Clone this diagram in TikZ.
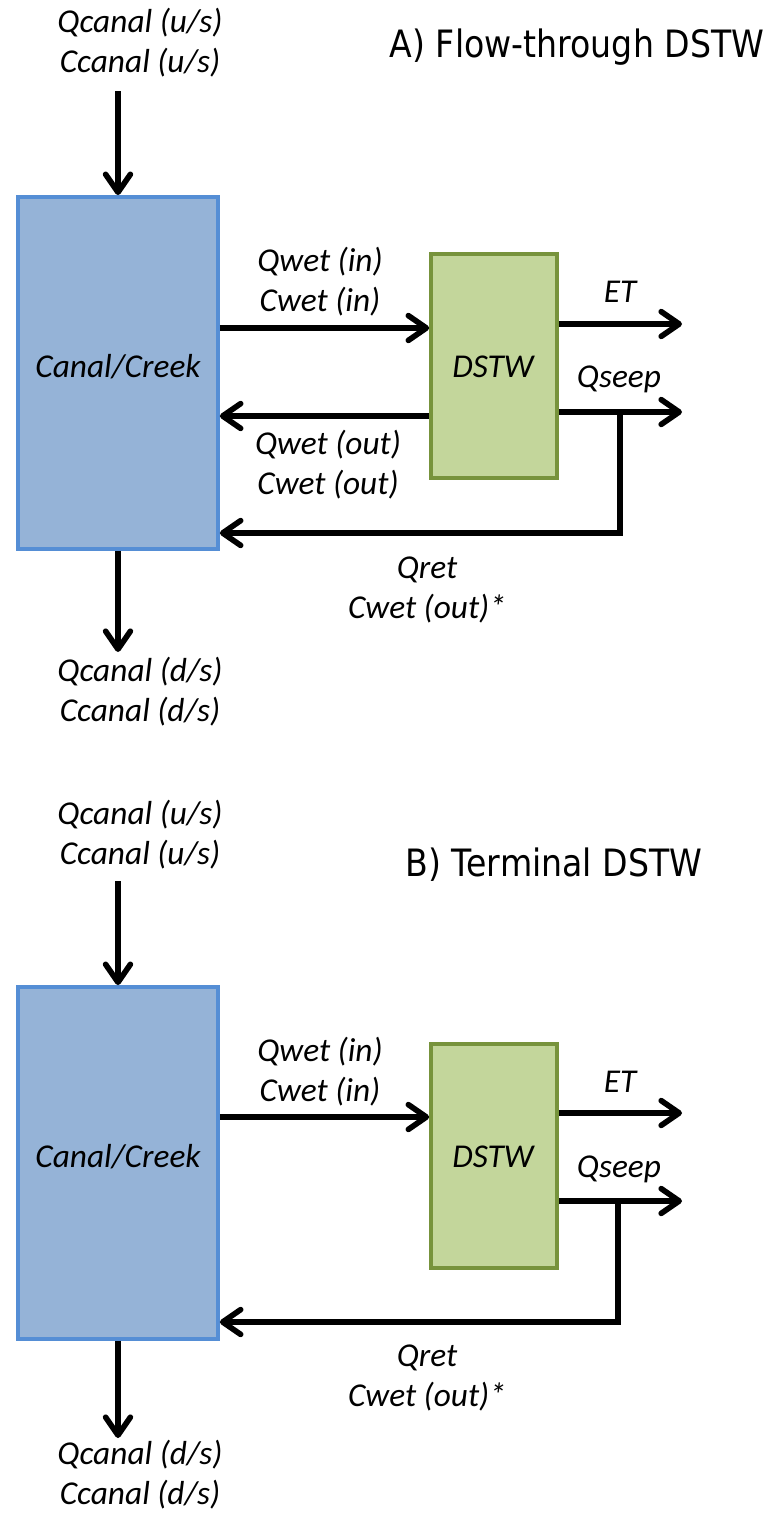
\documentclass[tikz,border=0pt]{standalone}
\usepackage{fontspec}
\setmainfont{Carlito}
\newfontfamily\titlefont{DejaVu Sans}[FakeStretch=0.88]
\usepackage{tikz}
\usetikzlibrary{arrows.meta,positioning}
\definecolor{canalfill}{HTML}{95B3D7}
\definecolor{canalline}{HTML}{558ED5}
\definecolor{wetfill}{HTML}{C3D69B}
\definecolor{wetline}{HTML}{77933C}
\tikzset{
flow/.style={line width=4pt, -{Straight Barb[length=0.45cm,width=0.62cm,round]}}, % the black flow arrows
canal/.style={draw=canalline, fill=canalfill, line width=2.6pt, minimum width=5cm, minimum height=8.8cm},
wetland/.style={draw=wetline, fill=wetfill, line width=2.6pt, minimum width=3.15cm, minimum height=5.6cm},
lbl/.style={font=\fontsize{23.7pt}{28.45pt}\selectfont\itshape, align=center, inner sep=0pt},
heading/.style={font=\fontsize{26.8pt}{30pt}\selectfont\titlefont, inner sep=0pt}
}

\begin{document}
\begin{tikzpicture}[x=0.025cm, y=-0.025cm]
    \useasboundingbox (0,0) rectangle (771,1513);
    % A) flow-through wetland
    \node[heading] (titleA) at (577,47) {A) Flow-through DSTW};
    \node[canal] (canalA) at (118,373) {};
    \node[lbl] at (118,367) {Canal/Creek};
    \node[wetland] (dstwA) at (494,366) {};
    \node[lbl] at (493,367) {DSTW};
    \node[lbl] (upA) at (140,43) {Qcanal (u/s)\\Ccanal (u/s)};
    \node[lbl] (downA) at (140,692) {Qcanal (d/s)\\Ccanal (d/s)};
    \node[lbl] (inA) at (320,282) {Qwet (in)\\Cwet (in)};
    \node[lbl] (outA) at (328,465) {Qwet (out)\\Cwet (out)};
    \node[lbl] (etlA) at (620,292) {ET};
    \node[lbl] (seeplA) at (619,379) {Qseep};
    \node[lbl] (retA) at (427,590) {Qret\\Cwet (out)*};
    \coordinate (srcA) at (118,91);
    \coordinate (sinkA) at (118,652);
    \coordinate (etA) at (682,324);
    \coordinate (seepA) at (682,412);
    \coordinate (forkA) at (620,412);
    \coordinate (backA) at (620,533);
    \draw[flow] (srcA) -- (canalA.north);
    \draw[flow] (canalA.south) -- (sinkA);
    \draw[flow] (canalA.east |- 0,328) -- (dstwA.west |- 0,328);
    \draw[flow] (dstwA.west |- 0,416) -- (canalA.east |- 0,416);
    \draw[flow] (dstwA.east |- etA) -- (etA);
    \draw[flow] (dstwA.east |- seepA) -- (seepA);
    \draw[flow] (forkA) -- (backA) -- (canalA.east |- backA);
    % B) terminal wetland
    \begin{scope}[shift={(0,790)}]
    \node[heading] (titleB) at (554,75) {B) Terminal DSTW};
    \node[canal] (canalB) at (118,373) {};
    \node[lbl] at (118,367) {Canal/Creek};
    \node[wetland] (dstwB) at (494,366) {};
    \node[lbl] at (493,367) {DSTW};
    \node[lbl] (upB) at (140,45) {Qcanal (u/s)\\Ccanal (u/s)};
    \node[lbl] (downB) at (140,685) {Qcanal (d/s)\\Ccanal (d/s)};
    \node[lbl] (inB) at (320,282) {Qwet (in)\\Cwet (in)};
    \node[lbl] (etlB) at (620,292) {ET};
    \node[lbl] (seeplB) at (619,379) {Qseep};
    \node[lbl] (retB) at (427,588) {Qret\\Cwet (out)*};
    \coordinate (srcB) at (118,91);
    \coordinate (sinkB) at (118,648);
    \coordinate (etB) at (682,323);
    \coordinate (seepB) at (682,411);
    \coordinate (forkB) at (618,411);
    \coordinate (backB) at (618,532);
    \draw[flow] (srcB) -- (canalB.north);
    \draw[flow] (canalB.south) -- (sinkB);
    \draw[flow] (canalB.east |- 0,327) -- (dstwB.west |- 0,327);
    \draw[flow] (dstwB.east |- etB) -- (etB);
    \draw[flow] (dstwB.east |- seepB) -- (seepB);
    \draw[flow] (forkB) -- (backB) -- (canalB.east |- backB);
    \end{scope}
\end{tikzpicture}
\end{document}
